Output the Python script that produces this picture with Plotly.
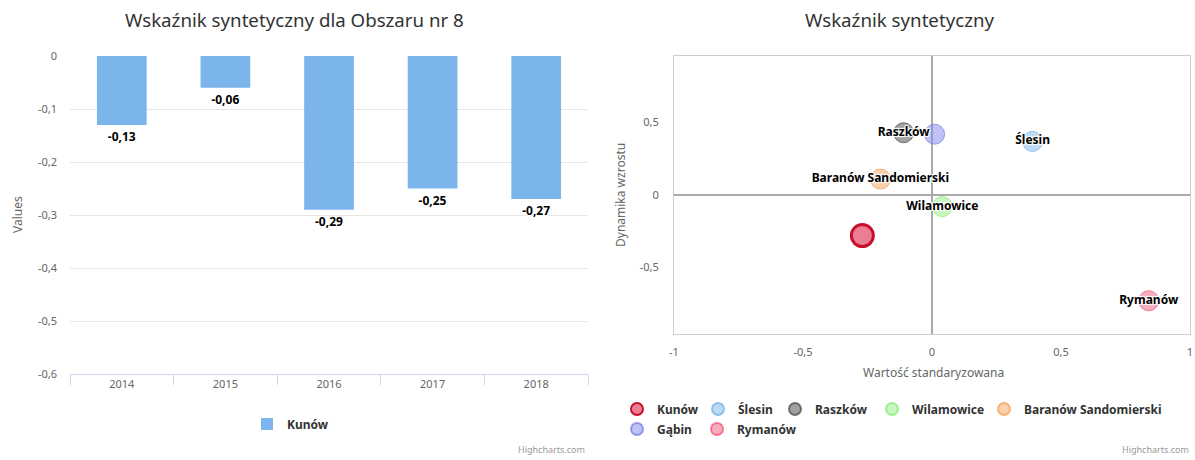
import plotly.graph_objects as go

# ---------------- data ----------------
years = ["2014", "2015", "2016", "2017", "2018"]
kunow_values = [-0.13, -0.06, -0.29, -0.25, -0.27]
bar_y_ticks = [0, -0.1, -0.2, -0.3, -0.4, -0.5, -0.6]
bar_y_ticklabels = ["0", "-0,1", "-0,2", "-0,3", "-0,4", "-0,5", "-0,6"]

towns = ["Kunów", "Ślesin", "Raszków", "Wilamowice", "Baranów Sandomierski", "Gąbin", "Rymanów"]
std_value = [-0.27, 0.39, -0.11, 0.04, -0.20, 0.01, 0.84]
growth = [-0.28, 0.37, 0.43, -0.08, 0.11, 0.42, -0.73]
label_shown = [False, True, True, True, True, False, True]
sc_x_ticks = [-1, -0.5, 0, 0.5, 1]
sc_x_ticklabels = ["-1", "-0,5", "0", "0,5", "1"]
sc_y_ticks = [-0.5, 0, 0.5]
sc_y_ticklabels = ["-0,5", "0", "0,5"]

# ---------------- styles ----------------
FONT = "Noto Sans"
W, H = 1195, 460
fills = ["rgba(220,20,60,0.55)", "rgba(124,181,236,0.5)", "rgba(67,67,72,0.5)",
         "rgba(144,237,125,0.5)", "rgba(247,163,92,0.5)", "rgba(128,133,233,0.5)",
         "rgba(241,92,128,0.5)"]
lines = ["#c8102e", "rgba(124,181,236,0.8)", "rgba(67,67,72,0.7)",
         "rgba(144,237,125,0.8)", "rgba(247,163,92,0.8)", "rgba(128,133,233,0.8)",
         "rgba(241,92,128,0.8)"]
# legend entry placement (text start x, row centre y), in pixels
legend_text_x = [657, 738, 815, 912, 1024, 657, 737]
legend_row_y = [409, 409, 409, 409, 409, 429, 429]
LEG_TEXT_OFFSET = 40
halo = "white 1px 1px 1px, white -1px -1px 1px, white 1px -1px 1px, white -1px 1px 1px"


def px(x):
    return x / W


def py(y):
    return 1 - y / H


fig = go.Figure()

bar_text = [f"{v:.2f}".replace(".", ",") for v in kunow_values]
fig.add_trace(go.Bar(
    x=years, y=kunow_values, name="Kunów", marker=dict(color="#7cb5ec", line=dict(width=0)),
    text=bar_text, textposition="outside", cliponaxis=False,
    textfont=dict(family=FONT, size=12, color="#000", weight=700, shadow=halo),
    xaxis="x", yaxis="y", legend="legend",
))

legfont = dict(family=FONT, size=12, color="#333", weight=700)
legend_layouts = {}
for i, t in enumerate(towns):
    key = f"legend{i + 2}"
    fig.add_trace(go.Scatter(
        x=[std_value[i]], y=[growth[i]], mode="markers", name=t,
        marker=dict(size=22 if i == 0 else 20, color=fills[i],
                    line=dict(color=lines[i], width=3 if i == 0 else 1)),
        xaxis="x2", yaxis="y2", legend=key, cliponaxis=False,
    ))
    legend_layouts[key] = dict(
        x=px(legend_text_x[i] - LEG_TEXT_OFFSET), y=py(legend_row_y[i]),
        xanchor="left", yanchor="middle", orientation="h", font=legfont,
        itemsizing="constant", bgcolor="rgba(0,0,0,0)")

lx = [std_value[i] for i in range(len(towns)) if label_shown[i]]
ly = [growth[i] for i in range(len(towns)) if label_shown[i]]
lt = [towns[i] for i in range(len(towns)) if label_shown[i]]
fig.add_trace(go.Scatter(
    x=lx, y=ly, text=lt, mode="text", textposition="middle center", showlegend=False,
    textfont=dict(family=FONT, size=12, color="#000", weight=700, shadow=halo),
    xaxis="x2", yaxis="y2", cliponaxis=False,
))

tickfont = dict(family=FONT, size=11, color="#666")

fig.update_layout(
    width=W, height=H, margin=dict(l=0, r=0, t=0, b=0, autoexpand=False),
    paper_bgcolor="white", plot_bgcolor="white", hovermode=False,
    font=dict(family=FONT),
    bargap=0.52,
    xaxis=dict(domain=[px(70), px(588)], anchor="y", type="category",
               showline=True, linecolor="#ccd6eb", linewidth=1,
               ticks="outside", tickson="boundaries", ticklen=10, tickcolor="#ccd6eb",
               showgrid=False, tickfont=tickfont, fixedrange=True),
    yaxis=dict(domain=[py(374), py(56)], anchor="x", range=[-0.6, 0],
               tickvals=bar_y_ticks, ticktext=bar_y_ticklabels,
               showgrid=True, gridcolor="#e6e6e6", zeroline=False, showline=False,
               ticklabelstandoff=12, tickfont=tickfont, fixedrange=True),
    xaxis2=dict(domain=[px(674), px(1190)], anchor="y2", range=[-1, 1],
                tickvals=sc_x_ticks, ticktext=sc_x_ticklabels,
                showgrid=False, zeroline=True, zerolinecolor="#aaaaaa", zerolinewidth=2,
                showline=True, linecolor="#cccccc", linewidth=1, mirror=True,
                ticklabelstandoff=8, tickfont=tickfont, fixedrange=True),
    yaxis2=dict(domain=[py(334), py(56)], anchor="x2", range=[-0.96, 0.96],
                tickvals=sc_y_ticks, ticktext=sc_y_ticklabels,
                showgrid=False, zeroline=True, zerolinecolor="#aaaaaa", zerolinewidth=2,
                showline=True, linecolor="#cccccc", linewidth=1, mirror=True,
                ticklabelstandoff=12, tickfont=tickfont, fixedrange=True),
    legend=dict(x=px(287 - LEG_TEXT_OFFSET), y=py(424), xanchor="left", yanchor="middle",
                orientation="h", font=legfont, bgcolor="rgba(0,0,0,0)"),
    **legend_layouts,
)

annotations = [
    dict(text="Wskaźnik syntetyczny dla Obszaru nr 8", x=px(294), y=py(20),
         font=dict(family=FONT, size=18.7, color="#333")),
    dict(text="Wskaźnik syntetyczny", x=px(899), y=py(20),
         font=dict(family=FONT, size=18.7, color="#333")),
    dict(text="Values", x=px(17), y=py(215), textangle=-90,
         font=dict(family=FONT, size=12, color="#666")),
    dict(text="Wartość standaryzowana", x=px(933), y=py(372),
         font=dict(family=FONT, size=12, color="#666")),
    dict(text="Dynamika wzrostu", x=px(620), y=py(195), textangle=-90,
         font=dict(family=FONT, size=12, color="#666")),
    dict(text="Highcharts.com", x=px(587), y=py(449), xanchor="right",
         font=dict(family=FONT, size=9, color="#999")),
    dict(text="Highcharts.com", x=px(1191), y=py(449), xanchor="right",
         font=dict(family=FONT, size=9, color="#999")),
]
for a in annotations:
    a.setdefault("xanchor", "center")
    a.update(xref="paper", yref="paper", yanchor="middle", showarrow=False)
fig.update_layout(annotations=annotations)

fig.write_html(
    "out.html",
    config={"displayModeBar": False, "staticPlot": True},
    post_script="document.body.style.margin='0';document.body.style.overflow='hidden';",
)
